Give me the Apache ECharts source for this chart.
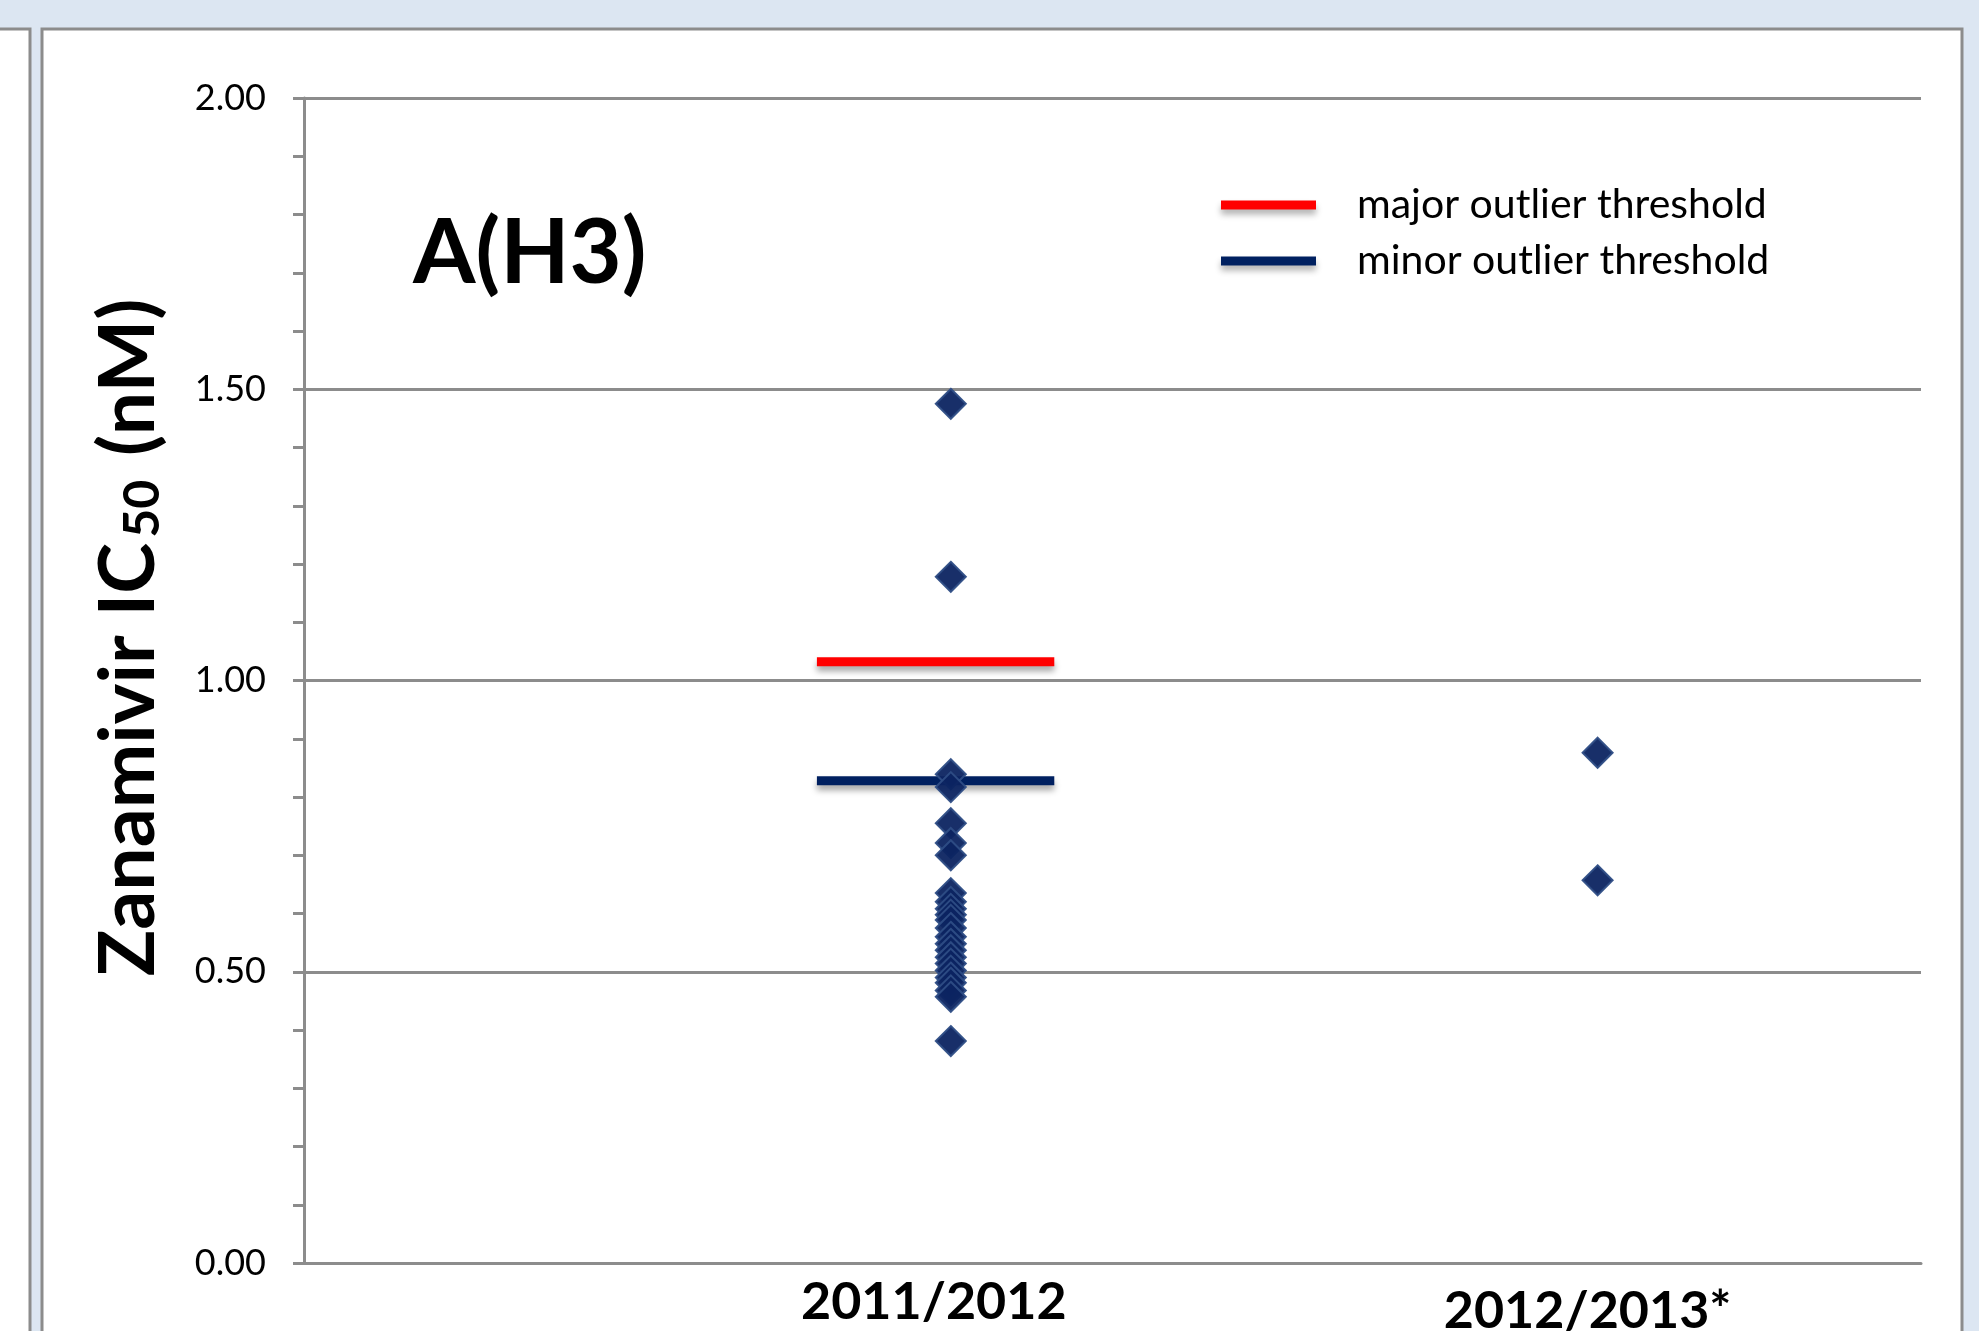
<!DOCTYPE html>
<html>
<head>
<meta charset="utf-8">
<script src="https://cdn.jsdelivr.net/npm/echarts@6/dist/echarts.min.js"></script>
<style>
html,body{margin:0;padding:0;background:#dce6f2;overflow:hidden;}
#chart{width:1979px;height:1331px;}
</style>
</head>
<body>
<div id="chart"></div>
<script>
// ---- data ----
var seasons = ['2011/2012', '2012/2013*'];
var seasonX = [1, 2];
var values2011 = [1.475, 1.178, 0.839, 0.817, 0.755, 0.721, 0.700, 0.635, 0.620, 0.608, 0.598, 0.589,
                  0.575, 0.560, 0.548, 0.537, 0.525, 0.514, 0.502, 0.490, 0.481, 0.468, 0.457, 0.381];
var values2012 = [0.876, 0.657];
var thresholdNames = ['major outlier threshold', 'minor outlier threshold'];
var thresholdValues = [1.032, 0.828];
var thresholdXRange = [0.793, 1.160];
var yTicks = [0, 0.5, 1.0, 1.5, 2.0];

var FONT = 'Lato, "Open Sans", "DejaVu Sans", sans-serif';
var GRAY = '#8c8c8c';

var scatterData = [];
values2011.forEach(function (v) { scatterData.push([seasonX[0], v]); });
values2012.forEach(function (v) { scatterData.push([seasonX[1], v]); });

function thresholdSeries(i, color) {
  return {
    name: thresholdNames[i],
    type: 'line',
    data: [[thresholdXRange[0], thresholdValues[i]], [thresholdXRange[1], thresholdValues[i]]],
    symbol: 'none',
    silent: true,
    z: 3,
    lineStyle: {
      color: color, width: 9, cap: 'butt',
      shadowColor: 'rgba(0,0,0,0.35)', shadowBlur: 6, shadowOffsetY: 5
    },
    itemStyle: { color: color }
  };
}

var chart = echarts.init(document.getElementById('chart'), null, { renderer: 'canvas' });
chart.setOption({
  backgroundColor: '#dce6f2',
  animation: false,
  graphic: [
    { type: 'rect', z: -10, silent: true, shape: { x: -10, y: 29, width: 40, height: 1400 },
      style: { fill: '#ffffff', stroke: GRAY, lineWidth: 3 } },
    { type: 'rect', z: -10, silent: true, shape: { x: 42, y: 29, width: 1920, height: 1400 },
      style: { fill: '#ffffff', stroke: GRAY, lineWidth: 3 } }
  ],
  title: {
    text: 'A(H3)',
    left: 413, top: 209,
    padding: 0,
    textStyle: { fontFamily: FONT, fontWeight: 'bold', fontSize: 90, color: '#000' }
  },
  legend: {
    data: thresholdNames,
    orient: 'vertical',
    left: 1221, top: 183,
    icon: 'rect',
    itemWidth: 95, itemHeight: 9,
    itemGap: 12,
    padding: 0,
    selectedMode: false,
    itemStyle: { shadowColor: 'rgba(0,0,0,0.3)', shadowBlur: 6, shadowOffsetY: 5 },
    textStyle: { fontFamily: FONT, fontSize: 41, lineHeight: 44, color: '#000', padding: [0, 0, 0, 36] }
  },
  grid: { left: 304, right: 58, top: 98, bottom: 68, containLabel: false, outerBoundsMode: 'none' },
  xAxis: {
    type: 'value',
    min: 0, max: 2.5, interval: 0.5,
    axisLine: { show: true, lineStyle: { color: GRAY, width: 3 } },
    axisTick: { show: false },
    splitLine: { show: false },
    axisLabel: {
      margin: 13,
      hideOverlap: false,
      showMinLabel: true, showMaxLabel: true,
      formatter: function (v) {
        var i = seasonX.indexOf(Math.round(v * 100) / 100);
        if (i === 0) return '{a|' + seasons[0] + '}';
        if (i === 1) return '{b|' + seasons[1] + '}';
        return '';
      },
      rich: {
        a: { fontFamily: FONT, fontWeight: 'bold', fontSize: 52, color: '#000', padding: [0, 34, 0, 0] },
        b: { fontFamily: FONT, fontWeight: 'bold', fontSize: 52, color: '#000', padding: [9, 20, 0, 0] }
      }
    }
  },
  yAxis: {
    type: 'value',
    min: yTicks[0], max: yTicks[yTicks.length - 1], interval: 0.5,
    name: '{t|Zanamivir IC}{s|50}{t| (nM)}',
    nameLocation: 'middle',
    nameGap: 136,
    nameTextStyle: {
      padding: [0, 0, 0, 86],
      rich: {
        t: { fontFamily: FONT, fontWeight: 'bold', fontSize: 77, color: '#000' },
        s: { fontFamily: FONT, fontWeight: 'bold', fontSize: 50, color: '#000', verticalAlign: 'bottom', padding: [0, 5, 0, 5] }
      }
    },
    axisLine: { show: true, lineStyle: { color: GRAY, width: 3 } },
    axisTick: { show: true, length: 11, lineStyle: { color: GRAY, width: 3 } },
    minorTick: { show: true, splitNumber: 5, length: 11, lineStyle: { color: GRAY, width: 3 } },
    splitLine: { show: true, lineStyle: { color: GRAY, width: 3 } },
    axisLabel: {
      margin: 38,
      fontFamily: FONT, fontSize: 36, color: '#000',
      formatter: function (v) { return v.toFixed(2); }
    }
  },
  series: [
    thresholdSeries(0, '#ff0000'),
    thresholdSeries(1, '#002060'),
    {
      name: 'IC50',
      type: 'scatter',
      data: scatterData,
      symbol: 'diamond',
      symbolSize: 30,
      z: 4,
      silent: true,
      itemStyle: { color: '#0c2461', borderColor: '#2e4d85', borderWidth: 2, opacity: 0.95 }
    }
  ]
});
</script>
</body>
</html>
